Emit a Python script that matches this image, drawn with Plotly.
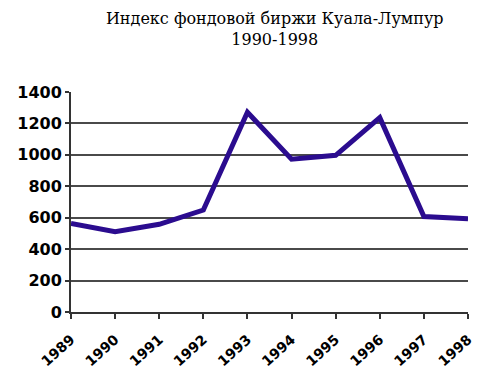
import plotly.graph_objects as go

years = ["1989", "1990", "1991", "1992", "1993", "1994", "1995", "1996", "1997", "1998"]
index_values = [564, 511, 558, 649, 1271, 972, 997, 1237, 607, 594]
y_ticks = [0, 200, 400, 600, 800, 1000, 1200, 1400]

fig = go.Figure()
fig.add_trace(go.Scatter(
    x=list(range(len(years))), y=index_values, mode="lines",
    line=dict(color="#2b0c8f", width=5), showlegend=False,
))

# page body has an 8px default margin, so the figure is 8px smaller
fig.update_layout(
    width=485, height=366,
    margin=dict(l=63, r=25, t=84, b=62, autoexpand=False),
    paper_bgcolor="white", plot_bgcolor="white",
    title=dict(
        text="Индекс фондовой биржи Куала-Лумпур<br>1990-1998",
        xref="container", x=0.55, xanchor="center",
        yref="container", y=0.955, yanchor="middle",
        pad=dict(t=0, b=0),
        font=dict(family="DejaVu Serif, serif", size=16, color="black"),
    ),
    xaxis=dict(
        range=[0, len(years) - 1], automargin=False,
        tickmode="array", tickvals=list(range(len(years))), ticktext=years,
        tickangle=-42, ticks="outside", ticklen=5, tickcolor="#333333", tickwidth=1.5,
        ticklabelstandoff=7,
        showline=True, linecolor="#333333", linewidth=2,
        showgrid=False, zeroline=False,
        tickfont=dict(family="DejaVu Sans, sans-serif", size=14, color="black", weight="bold"),
    ),
    yaxis=dict(
        range=[0, 1400], tickvals=y_ticks, automargin=False,
        ticks="outside", ticklen=4, tickcolor="#333333", tickwidth=1.5,
        showline=True, linecolor="#333333", linewidth=2,
        showgrid=True, gridcolor="#4a4a4a", gridwidth=2,
        zeroline=False,
        tickfont=dict(family="DejaVu Sans, sans-serif", size=16, color="black", weight="bold"),
    ),
)

fig.write_html("out.html")
